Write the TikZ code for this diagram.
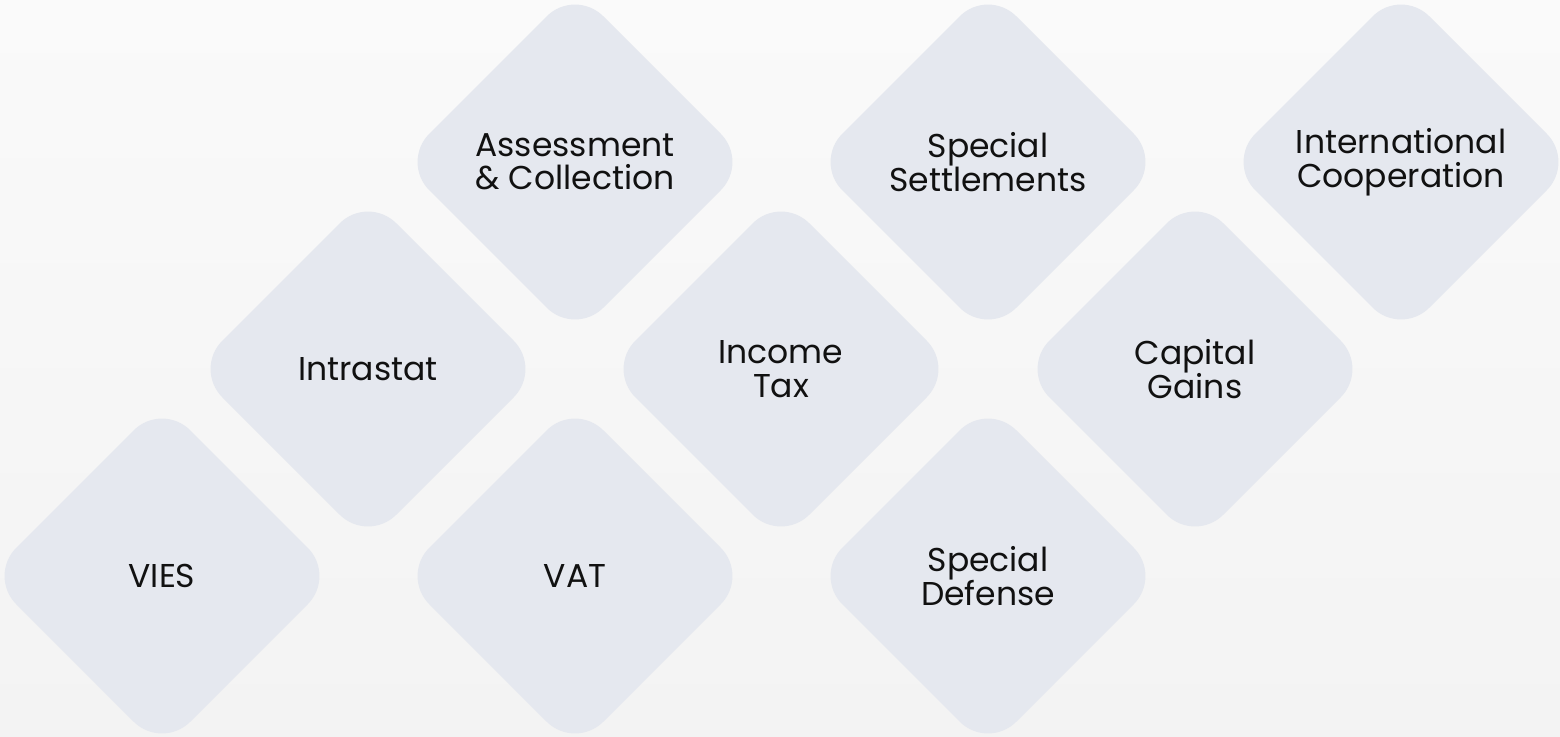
\documentclass[tikz,border=0pt]{standalone}
\usepackage{fontspec}
\setmainfont{Poppins}
\usetikzlibrary{shapes.geometric}
\definecolor{tilefill}{HTML}{E5E8EF}
\definecolor{bgtop}{HTML}{FAFAFA}
\definecolor{bgbot}{HTML}{F3F3F3}
\definecolor{txt}{HTML}{111111}
\tikzset{
  tile/.style={diamond, aspect=1, fill=tilefill, draw=none, rounded corners=40pt,
    minimum width=348pt, minimum height=348pt, inner sep=0pt, outer sep=0pt,
    align=center, text=txt, font=\fontsize{33}{33.5}\selectfont}
}
\begin{document}
\begin{tikzpicture}[x=1pt,y=-1pt]
\shade[top color=bgtop, bottom color=bgbot] (0,0) rectangle (1560,736);
\useasboundingbox (0,0) rectangle (1560,736);
\node[tile] (vies) at (162,576) {VIES};
\node[tile] (vat) at (575,576) {VAT};
\node[tile] (defense) at (988,576) {Special\\Defense};
\node[tile] (intrastat) at (368,369) {Intrastat};
\node[tile] (income) at (781,369) {Income\\Tax};
\node[tile] (capital) at (1195,369) {Capital\\Gains};
\node[tile] (assess) at (575,162) {Assessment\\\& Collection};
\node[tile] (settle) at (988,162) {Special\\Settlements};
\node[tile] (intl) at (1401,162) {International\\Cooperation};
\end{tikzpicture}
\end{document}
